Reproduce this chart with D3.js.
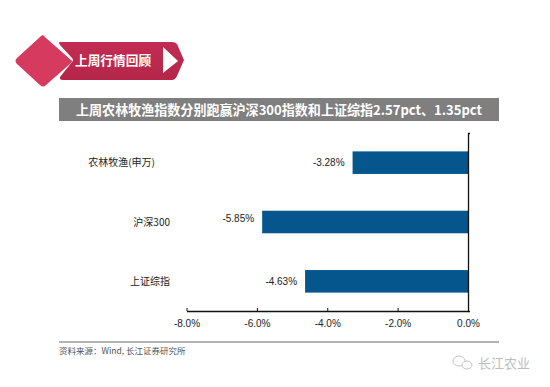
<!DOCTYPE html>
<html>
<head>
<meta charset="utf-8">
<script src="https://cdn.jsdelivr.net/npm/d3@7"></script>
<style>
    html, body {margin: 0; padding: 0; background: #fff;}
    svg {display: block;}
    text {font-family: "Noto Sans CJK SC", "Liberation Sans", sans-serif;}
    .num {font-family: "Liberation Sans", sans-serif;}
</style>
</head>
<body>
<script>
//chart data
var categories = ["农林牧渔(申万)", "沪深300", "上证综指"];
var values = [-3.28, -5.85, -4.63];
var valueLabels = ["-3.28%", "-5.85%", "-4.63%"];
var xTicks = [-8, -6, -4, -2, 0];

var sectionTitle = "上周行情回顾";
var chartTitle = "上周农林牧渔指数分别跑赢沪深300指数和上证综指2.57pct、1.35pct";
var sourceNote = "资料来源：Wind, 长江证券研究所";
var watermark = "长江农业";

var width = 550, height = 387;

var svg = d3.select("body").append("svg")
    .attr("width", width)
    .attr("height", height);

//section header: diamond plus ribbon with arrow
var grad = svg.append("defs").append("linearGradient")
    .attr("id", "ribbon")
    .attr("x1", 0).attr("x2", 0).attr("y1", 0).attr("y2", 1);
grad.append("stop").attr("offset", "0%").attr("stop-color", "#c22c52");
grad.append("stop").attr("offset", "100%").attr("stop-color", "#b5264a");

svg.append("path")
    .attr("d", "M60,42 L172,42 Q175,42 177,44 L184,60 L177,76 Q175,80 172,80 L63,80 Q59,80 60,77 L72,62 Q74,60 72,58 L60,45 Q58,42 60,42Z")
    .attr("fill", "url(#ribbon)");
svg.append("path")
    .attr("d", "M43,35 Q43,35 46,38 L71,60 Q73,61 71,63 L46,85 Q43,88 40,85 L17,64 Q14,61 17,58 L40,37 Q42,35 43,35Z")
    .attr("fill", "#d63a5e");
svg.append("path")
    .attr("d", "M163,47 L178,61 L163,73Z")
    .attr("fill", "#fff");
svg.append("text")
    .attr("x", 75)
    .attr("y", 65)
    .attr("font-size", 12.7)
    .attr("font-weight", 700)
    .attr("fill", "#fff")
    .text(sectionTitle);

//grey title band
svg.append("rect")
    .attr("x", 59)
    .attr("y", 98)
    .attr("width", 440)
    .attr("height", 23)
    .attr("fill", "#7f7f7f");
svg.append("text")
    .attr("x", 76)
    .attr("y", 115)
    .attr("font-size", 13.5)
    .attr("font-weight", 700)
    .attr("fill", "#fff")
    .attr("textLength", 406)
    .attr("lengthAdjust", "spacingAndGlyphs")
    .text(chartTitle);

//scales
var x = d3.scaleLinear().domain([-8, 0]).range([186.5, 468]);
var y = d3.scaleBand().domain(categories).range([133, 311]).paddingInner(0.62).paddingOuter(0.31);

//bars
svg.selectAll(".bars")
    .data(values)
    .enter()
    .append("rect")
    .attr("class", "bars")
    .attr("x", function(d){ return x(d); })
    .attr("y", function(d, i){ return y(categories[i]); })
    .attr("width", function(d){ return x(0) - x(d); })
    .attr("height", y.bandwidth())
    .attr("fill", "#04568c");

//value labels, the middle one sits a little above its bar in the original
svg.selectAll(".numbers")
    .data(values)
    .enter()
    .append("text")
    .attr("class", "numbers num")
    .attr("x", function(d){ return x(d) - 8; })
    .attr("y", function(d, i){ return y(categories[i]) + y.bandwidth() / 2 + (i === 1 ? -4 : 0); })
    .attr("dy", "0.35em")
    .attr("text-anchor", "end")
    .attr("font-size", 10)
    .attr("fill", "#222")
    .text(function(d, i){ return valueLabels[i]; });

//category labels
svg.selectAll(".cats")
    .data(categories)
    .enter()
    .append("text")
    .attr("class", "cats")
    .attr("x", function(d, i){ return i === 0 ? 155 : 170; })
    .attr("y", function(d){ return y(d) + y.bandwidth() / 2; })
    .attr("dy", "0.35em")
    .attr("text-anchor", "end")
    .attr("font-size", 10)
    .attr("fill", "#222")
    .text(function(d){ return d; });

//axes
var xAxis = d3.axisBottom(x)
    .tickValues(xTicks)
    .tickSizeInner(-3)
    .tickSizeOuter(0)
    .tickPadding(9)
    .tickFormat(function(d){ return d.toFixed(1) + "%"; });
var axisG = svg.append("g")
    .attr("transform", "translate(0,311)")
    .call(xAxis);
axisG.select(".domain").attr("stroke", "#111").attr("stroke-width", 1.3);
axisG.selectAll(".tick line").attr("stroke", "#111");
axisG.selectAll("text")
    .attr("class", "num")
    .attr("font-size", 10)
    .attr("fill", "#222");

var yAxis = d3.axisRight(y).tickValues([]).tickSizeOuter(2);
var yG = svg.append("g")
    .attr("transform", "translate(468,0)")
    .call(yAxis);
yG.select(".domain").attr("stroke", "#111").attr("stroke-width", 1.3);

//footer
svg.append("line")
    .attr("x1", 59).attr("x2", 499)
    .attr("y1", 342).attr("y2", 342)
    .attr("stroke", "#666")
    .attr("stroke-width", 1);
svg.append("text")
    .attr("x", 59)
    .attr("y", 354)
    .attr("font-size", 8.5)
    .attr("fill", "#555")
    .text(sourceNote);

//watermark
var wm = svg.append("g").attr("fill", "none").attr("stroke", "#c4c4c4");
wm.append("ellipse").attr("cx", 459).attr("cy", 361).attr("rx", 6).attr("ry", 5);
wm.append("ellipse").attr("cx", 467).attr("cy", 365).attr("rx", 5).attr("ry", 4).attr("fill", "#fff");
svg.append("text")
    .attr("x", 478)
    .attr("y", 368)
    .attr("font-size", 13)
    .attr("fill", "#bdbdbd")
    .text(watermark);
</script>
</body>
</html>
